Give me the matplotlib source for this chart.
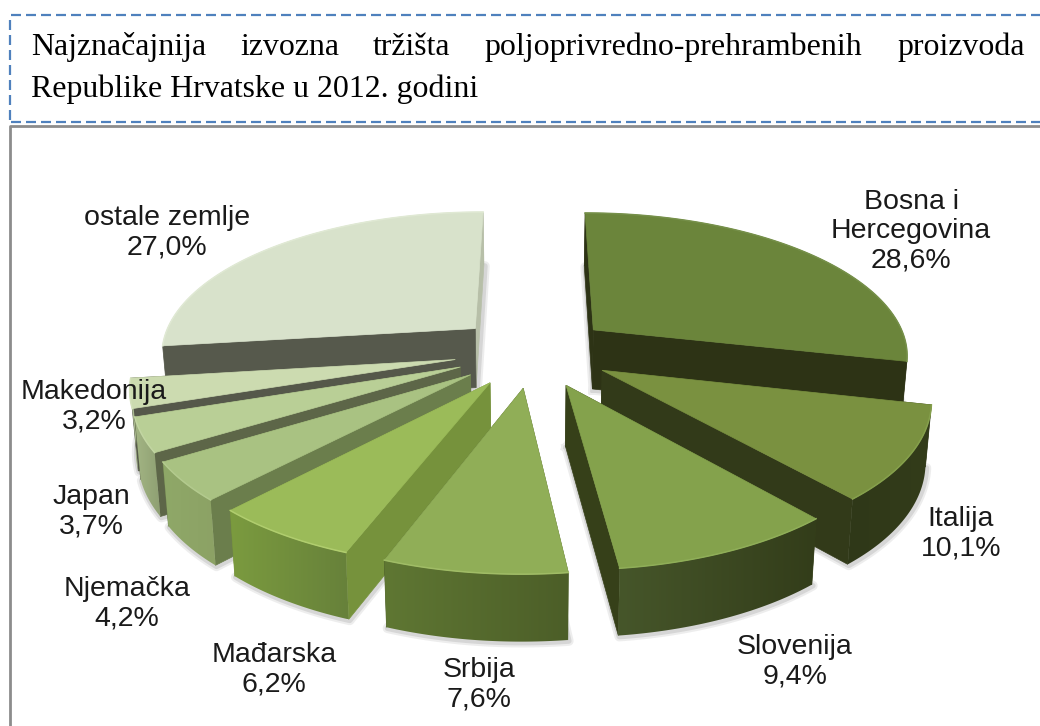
import numpy as np
import matplotlib
matplotlib.use('Agg')
import matplotlib.pyplot as plt
from matplotlib.colors import to_rgb
from matplotlib.patches import Polygon

# Data, clockwise from 12 o'clock
countries = ['Bosna i\nHercegovina', 'Italija', 'Slovenija', 'Srbija', 'Mađarska',
             'Njemačka', 'Japan', 'Makedonija', 'ostale zemlje']
shares = [28.6, 10.1, 9.4, 7.6, 6.2, 4.2, 3.7, 3.2, 27.0]

# Colours per slice
top_colors = ['#6b853b', '#7a9140', '#84a24c', '#90ae57', '#9bbb59',
              '#a9c282', '#b9cf96', '#ccdbb0', '#d8e2cb']
edge_colors = ['#76904a', '#85a04c', '#8fae58', '#a0bc66', '#b0cd6e',
               '#b3ca8e', '#c2d5a2', '#d4e1bb', '#e0e9d4']
cut_start = ['#2d3315', '#323a19', '#364019', '#4c5e28', '#76923c',
             '#6b7e4c', '#5d6648', '#55584a', '#56594c']
cut_end = ['#2d3315', '#323a19', '#364019', '#4c5e28', '#76923c',
           '#6b7e4c', '#5d6648', '#55584a', '#b7bfa8']
wall_left = ['#2d3315', '#2f3818', '#46562a', '#5f7733', '#7b9b3f',
             '#8fa868', '#a3b584', '#b3c399', '#c0c9b2']
wall_right = ['#2d3315', '#333c1a', '#333d1a', '#4c5e28', '#67813a',
              '#8ca265', '#8e9f72', '#9eae85', '#a8b09c']

# Layout of the pie
cx, cy = 533, 351.5
width, height = 316, 142.3
persp = 0.162
explode = 0.25
bottom_shrink = 0.985

# Label centres in pixels
label_x = [911, 961, 795, 479, 274, 127, 91, 94, 167]
label_y = [231, 534, 662, 685, 670, 604, 512, 407, 233]

# Title words are justified in the original, so the first line is placed by word
title_line1 = ['Najznačajnija', 'izvozna', 'tržišta', 'poljoprivredno-prehrambenih', 'proizvoda']
title_line1_x = [31, 240, 373, 484, 897]
title_line2 = 'Republike Hrvatske u 2012. godini'


def project(X, Y):
    s = 1 / (1 - persp * Y)
    return cx + width * X * s, cy + height * Y * s


def drop(x, y, Y):
    # lower edge of the slice wall
    return cx + (x - cx) * bottom_shrink, y + 60 + 6 * Y


def gradient_fill(ax, xs, ys, c1, c2, z):
    poly = Polygon(np.column_stack([xs, ys]), closed=True, fc='none', ec='none',
                   transform=ax.transData)
    ax.add_patch(poly)
    grad = np.linspace(to_rgb(c1), to_rgb(c2), 64).reshape(1, 64, 3)
    im = ax.imshow(grad, extent=(min(xs), max(xs), max(ys), min(ys)), aspect='auto',
                   interpolation='bilinear', zorder=z)
    im.set_clip_path(poly)


fig = plt.figure(figsize=(10.4, 7.26), dpi=100)
ax = fig.add_axes([0, 0, 1, 1])

# Angles come from the shares
ends = np.cumsum(shares) / np.sum(shares) * 2 * np.pi
starts = np.concatenate([[0], ends[:-1]])
mids = (starts + ends) / 2

# Paint from the back of the pie to the front
order = np.argsort(-np.cos(mids))
z = 2.0
for i in order:
    off_x = explode * np.sin(mids[i])
    off_y = -explode * np.cos(mids[i])
    th = np.linspace(starts[i], ends[i], 80)
    X = np.sin(th) + off_x
    Y = -np.cos(th) + off_y
    top_x, top_y = project(X, Y)
    tip_x, tip_y = project(off_x, off_y)
    bx, by = drop(top_x, top_y, Y)
    tbx, tby = drop(tip_x, tip_y, off_y)

    # soft shadow round the foot of the slice
    for lw, alpha in [(7, 0.10), (4, 0.15)]:
        ax.plot(np.r_[tbx, bx, tbx] + 1, np.r_[tby, by, tby] + 1, color='#555555', lw=lw,
                alpha=alpha, zorder=z, solid_joinstyle='round')
    z += 0.01

    # the two cut walls and the outer wall, farthest first
    walls = [((off_y + Y[0]) / 2, 'start'), ((off_y + Y[-1]) / 2, 'end'), (Y.mean(), 'outer')]
    walls.sort(key=lambda w: w[0])
    for _, kind in walls:
        if kind == 'outer':
            gradient_fill(ax, np.r_[top_x, bx[::-1]], np.r_[top_y, by[::-1]],
                          wall_left[i], wall_right[i], z)
        elif kind == 'start':
            ax.fill([tip_x, top_x[0], bx[0], tbx], [tip_y, top_y[0], by[0], tby],
                    color=cut_start[i], lw=0.5, zorder=z)
        else:
            ax.fill([tip_x, top_x[-1], bx[-1], tbx], [tip_y, top_y[-1], by[-1], tby],
                    color=cut_end[i], lw=0.5, zorder=z)
        z += 0.01

    # top face
    ax.fill(np.r_[tip_x, top_x], np.r_[tip_y, top_y], color=top_colors[i], lw=0.5, zorder=z)
    z += 0.01
    ax.plot(top_x, top_y, color=edge_colors[i], lw=1.1, zorder=z)
    z += 0.01

# Labels
for name, share, x, y in zip(countries, shares, label_x, label_y):
    text = name + '\n' + f'{share:.1f}'.replace('.', ',') + '%'
    ax.text(x, y, text, ha='center', va='center', fontsize=20.5, color='#1a1a1a',
            family='Liberation Sans', linespacing=1.17, zorder=50)

# Title
for word, x in zip(title_line1, title_line1_x):
    ax.text(x, 55, word, ha='left', va='baseline', fontsize=22.95, color='black',
            family='Liberation Serif')
ax.text(31, 97, title_line2, ha='left', va='baseline', fontsize=22.95, color='black',
        family='Liberation Serif')

# Dashed box around the title
dash = dict(color='#4f81bd', lw=1.6, dashes=(4.5, 2.25))
ax.plot([11, 1040], [14.5, 14.5], **dash)
ax.plot([11, 1040], [122, 122], **dash)
ax.plot([10, 10], [20, 122], **dash)

# Grey frame around the chart
ax.plot([10, 10, 1040], [726, 126, 126], color='#8c8c8c', lw=2)

ax.set_xlim(0, 1040)
ax.set_ylim(726, 0)
ax.axis('off')

fig.savefig('out.png', dpi=100)
